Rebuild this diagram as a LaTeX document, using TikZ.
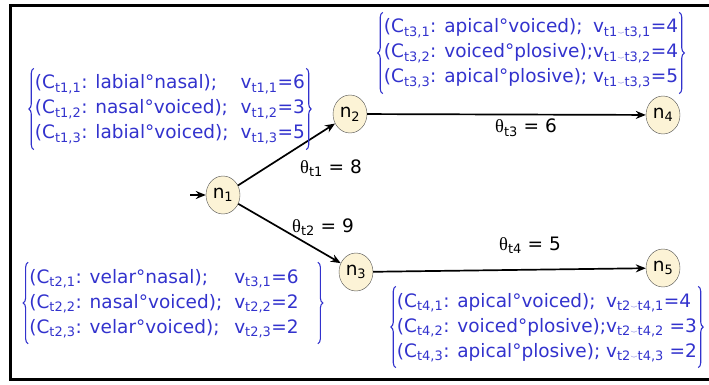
\documentclass[tikz,border=0pt]{standalone}
\usepackage{fontspec}
\setmainfont{DejaVu Sans}
\newfontfamily\thetafont{Liberation Serif}
\usetikzlibrary{arrows.meta,shapes.geometric,decorations.pathreplacing}
\usepackage{xcolor}
\definecolor{setblue}{RGB}{50,50,205}
\definecolor{statefill}{RGB}{252,243,214}
\newcommand{\lo}[1]{\textsubscript{#1}}
\newcommand{\tieup}{\raisebox{0.3ex}{$\scriptscriptstyle\smile$}}
\newcommand{\thet}[2]{{\thetafont θ}\lo{#1} = #2}

\begin{document}
\begin{tikzpicture}[x=1pt,y=-1pt,>={Stealth[length=10pt,width=8pt]}]
  \useasboundingbox (0,0) rectangle (709,385);
  \draw[line width=3pt] (709,6) -- (10,6) -- (10,379) -- (709,379);
  \tikzset{state/.style={ellipse, draw=black!70, fill=statefill, minimum width=34pt,
      minimum height=38pt, inner sep=0pt, font=\fontsize{18.5}{20}\selectfont},
    cset/.style={text=setblue, inner xsep=1pt, inner ysep=3pt, font=\fontsize{18.5}{25}\selectfont},
    setbrace/.style={setblue, line width=1.1pt, decorate, decoration={brace, amplitude=5pt}},
    weight/.style={font=\fontsize{18.5}{20}\selectfont},
    arc/.style={->, line width=1.7pt}}
  % states
  \node[state] (n1) at (223,195) {n\lo{1}};
  \node[state] (n2) at (350,114) {n\lo{2}};
  \node[state] (n3) at (356,272) {n\lo{3}};
  \node[state] (n4) at (663,115) {n\lo{4}};
  \node[state] (n5) at (663,268) {n\lo{5}};
  \coordinate (start) at (190,195);
  \draw[arc] (start) -- (n1);
  \draw[arc] (n1) -- (n2);
  \draw[arc] (n1) -- (n3);
  \draw[arc] (n2) -- (n4);
  \draw[arc] (n3) -- (n5);
  % thresholds
  \node[weight] (th1) at (331,168) {\thet{t1}{8}};
  \node[weight] (th2) at (323,227) {\thet{t2}{9}};
  \node[weight] (th3) at (526,128) {\thet{t3}{6}};
  \node[weight] (th4) at (530,245) {\thet{t4}{5}};
  % constraint sets
  \node[cset] (cs1) at (170,109) {\begin{tabular}{@{}l@{\hspace{12pt}}r@{}}
      (C\lo{t1,1}: labial°nasal); & v\lo{t1,1}=6\\
      (C\lo{t1,2}: nasal°voiced); & v\lo{t1,2}=3\\
      (C\lo{t1,3}: labial°voiced); & v\lo{t1,3}=5
    \end{tabular}};
  \node[cset] (cs2) at (173,303) {\begin{tabular}{@{}l@{\hspace{12pt}}r@{\hspace{18pt}}}
      (C\lo{t2,1}: velar°nasal); & v\lo{t3,1}=6\\
      (C\lo{t2,2}: nasal°voiced); & v\lo{t2,2}=2\\
      (C\lo{t2,3}: velar°voiced); & v\lo{t2,3}=2
    \end{tabular}};
  \node[cset] (cs3) at (531,53) {\begin{tabular}{@{}l@{}l@{}}
      (C\lo{t3,1}: apical°voiced); & v\lo{t1\tieup t3,1}=4\\
      (C\lo{t3,2}: voiced°plosive);& v\lo{t1\tieup t3,2}=4\\
      (C\lo{t3,3}: apical°plosive); & v\lo{t1\tieup t3,3}=5
    \end{tabular}};
  \node[cset] (cs4) at (547,327) {\begin{tabular}{@{}l@{}l@{}}
      (C\lo{t4,1}: apical°voiced); & v\lo{t2\tieup t4,1}=4\\
      (C\lo{t4,2}: voiced°plosive);& v\lo{t2\tieup t4,2} =3\\
      (C\lo{t4,3}: apical°plosive); & v\lo{t2\tieup t4,3} =2
    \end{tabular}};
  \foreach \s in {cs1,cs2,cs3,cs4} {
    \draw[setbrace] (\s.south west) -- (\s.north west);
    \draw[setbrace] (\s.north east) -- (\s.south east);
  }
\end{tikzpicture}
\end{document}
